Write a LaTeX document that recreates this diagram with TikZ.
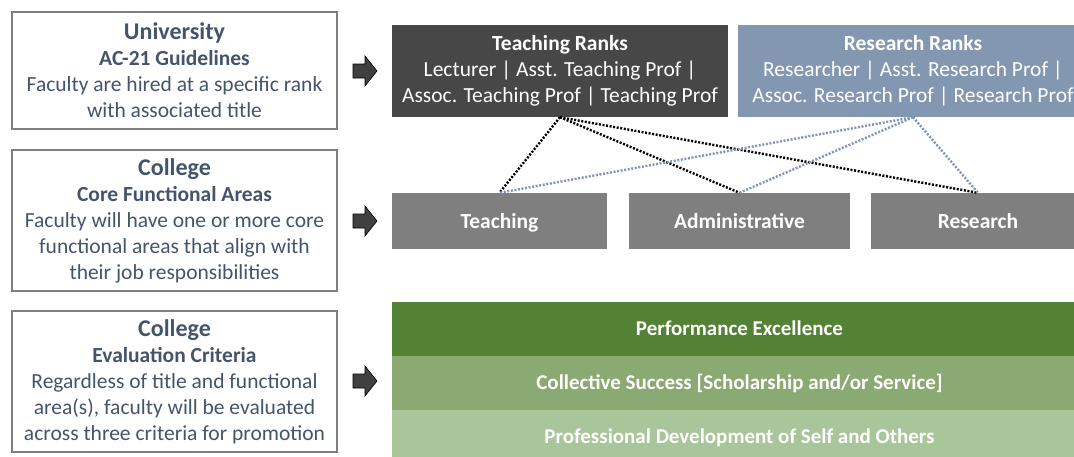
\documentclass[tikz,border=0pt]{standalone}
\usepackage{fontspec}
\setmainfont{Carlito}
\definecolor{txtblue}{HTML}{44546A}
\definecolor{boxline}{HTML}{7F7F7F}
\definecolor{darkrank}{HTML}{474747}
\definecolor{bluerank}{HTML}{8497B0}
\definecolor{areagray}{HTML}{7F7F7F}
\definecolor{greenA}{HTML}{548235}
\definecolor{greenB}{HTML}{8BA972}
\definecolor{greenC}{HTML}{A9C59A}
\definecolor{bluedot}{HTML}{7F95B5}
\definecolor{arrowfill}{HTML}{404040}
\tikzset{
  leftbox/.style={draw=boxline, line width=1.2pt, minimum width=325pt, align=center, text=txtblue, inner sep=0pt,
    font=\fontsize{21.5}{26}\selectfont},
  rankbox/.style={minimum height=92pt, align=center, text=white, inner sep=0pt,
    font=\fontsize{21.5}{26}\selectfont},
  areabox/.style={fill=areagray, minimum height=56pt, text=white, inner sep=0pt,
    text height=18pt, text depth=4pt,
    font=\fontsize{21.5}{24}\bfseries},
  band/.style={minimum width=695pt, minimum height=54pt, text=white, inner sep=0pt,
    text height=17pt, text depth=4pt,
    font=\fontsize{21}{24}\bfseries},
  tdot/.style={line width=2.4pt, dash pattern=on 2pt off 1.6pt},
  blockarrow/.style={fill=arrowfill, draw=black, line width=0.6pt, line join=miter}
}
\begin{document}
\begin{tikzpicture}[x=1pt,y=-1pt]
\useasboundingbox (0,0) rectangle (1074,456);
\clip (0,0) rectangle (1074,456);
% left boxes
\node[leftbox, minimum height=117pt] (uni) at (174.5,70.5)
  {{\fontsize{24}{26}\selectfont\bfseries University}\\{\bfseries AC-21 Guidelines}\\Faculty are hired at a specific rank\\with associated title};
\node[leftbox, minimum height=141pt] (core) at (174.5,220.5)
  {{\fontsize{24}{26}\selectfont\bfseries College}\\{\bfseries Core Functional Areas}\\Faculty will have one or more core\\functional areas that align with\\their job responsibilities};
\node[leftbox, minimum height=141pt] (eval) at (174.5,381.5)
  {{\fontsize{24}{26}\selectfont\bfseries College}\\{\bfseries Evaluation Criteria}\\Regardless of title and functional\\area(s), faculty will be evaluated\\across three criteria for promotion};
% block arrows
\foreach \cy/\nm in {71/a1, 221/a2, 381/a3}{
  \coordinate (\nm) at (353,\cy);
  \draw[blockarrow] (\nm) ++(0,-7) -- ++(12,0) -- ++(0,-8) -- ++(12,15) -- ++(-12,15) -- ++(0,-8) -- ++(-12,0) -- cycle;
}
% rank boxes
\node[rankbox, fill=darkrank, minimum width=336pt] (tr) at (560,71)
  {{\bfseries Teaching Ranks}\\Lecturer | Asst. Teaching Prof |\\Assoc. Teaching Prof | Teaching Prof};
\node[rankbox, fill=bluerank, minimum width=350pt] (rr) at (913,71)
  {{\bfseries Research Ranks}\\Researcher | Asst. Research Prof |\\Assoc. Research Prof | Research Prof};
% area boxes
\node[areabox, minimum width=215pt] (teach) at (499.5,221) {Teaching};
\node[areabox, minimum width=221pt] (admin) at (739.5,221) {Administrative};
\node[areabox, minimum width=214pt] (res) at (978,221) {Research};
% dotted connectors
\draw[tdot, black] (tr.south) -- (teach.north);
\draw[tdot, black] (tr.south) -- (admin.north);
\draw[tdot, black] (tr.south) -- (res.north);
\draw[tdot, bluedot] (rr.south) -- (teach.north);
\draw[tdot, bluedot] (rr.south) -- (admin.north);
\draw[tdot, bluedot] (rr.south) -- (res.north);
% green bands
\node[band, fill=greenA] (pe) at (739.5,329) {Performance Excellence};
\node[band, fill=greenB] (cs) at (739.5,383) {Collective Success [Scholarship and/or Service]};
\node[band, fill=greenC] (pd) at (739.5,437) {Professional Development of Self and Others};
\end{tikzpicture}
\end{document}
